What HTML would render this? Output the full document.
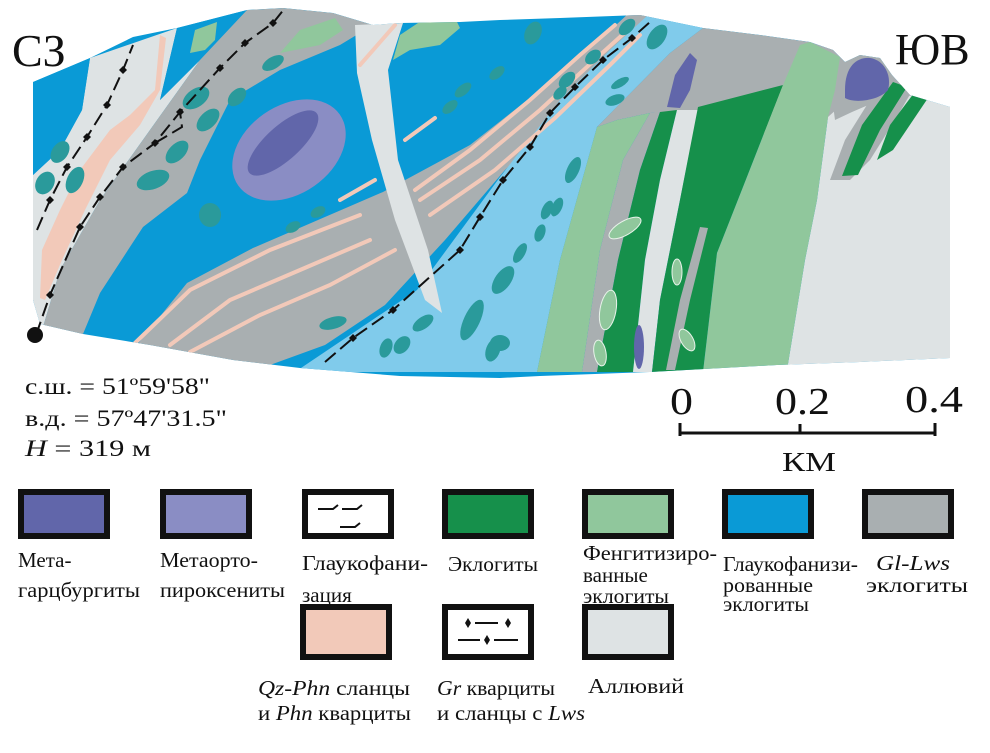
<!DOCTYPE html>
<html><head><meta charset="utf-8"><style>
html,body{margin:0;padding:0;background:#fff;}
svg{display:block;}
text{font-family:"Liberation Serif",serif;fill:#111;}
</style></head><body>
<svg width="990" height="753" viewBox="0 0 990 753" xmlns="http://www.w3.org/2000/svg">
<defs>
<clipPath id="map"><path d="M33,82 L90,58 L133,37 L177,28 L247,10 L283,8 L333,13 L373,25 L400,23 L460,22 L500,20 L560,18 L640,15 L703,28 L760,35 L810,42 L833,50 L845,62 L860,55 L880,58 L892,75 L910,95 L950,107 L950,358 L860,362 L777,365 L650,372 L540,376 L500,378 L400,376 L300,368 L233,360 L150,345 L83,334 L40,324 L33,300 Z"/></clipPath>
</defs>
<g clip-path="url(#map)">
<rect x="0" y="0" width="990" height="400" fill="#0a9ad6"/>
<path d="M90,58 L177,28 L160,100 L200,60 L150,130 L100,200 L60,270 L43,327 L33,320 L33,175 L60,150 L82,110 Z" fill="#dee3e4"/>
<path d="M33,82 L90,58 L82,110 L60,150 L33,175 Z" fill="#0a9ad6"/>
<path d="M160,100 L177,28 L247,10 L200,60 Z" fill="#0a9ad6"/>
<path d="M160,35 L166,38 L160,90 L140,125 L110,160 L85,210 L62,260 L45,300 L40,298 L42,250 L60,210 L80,170 L110,130 L130,115 L155,90 Z" fill="#f2c9b9"/>
<path d="M247,10 L283,8 L333,13 L373,25 L340,45 L280,70 L230,100 L200,160 L187,193 L143,227 L100,293 L83,334 L43,327 L60,270 L100,200 L150,130 L200,60 Z" fill="#a9afb1"/>
<path d="M133,350 L187,283 L253,248 L383,192 L470,145 L540,90 L600,40 L630,12 L662,12 L615,60 L555,120 L505,170 L445,240 L385,305 L325,345 L270,365 L233,362 Z" fill="#a9afb1"/>
<path d="M295,372 L417,290 L500,177 L560,100 L610,50 L648,15 L703,28 L670,53 L597,127 L585,170 L560,260 L537,372 Z" fill="#80cbeb"/>
<path d="M703,28 L760,35 L810,42 L833,50 L847,65 L852,98 L835,118 L800,125 L760,135 L700,110 L650,113 L617,120 L597,127 L670,53 Z" fill="#a9afb1"/>
<path d="M787,370 L805,260 L817,200 L828,117 L838,108 L852,98 L880,80 L950,100 L960,370 Z" fill="#dee3e4"/>
<path d="M825,45 L870,45 L905,70 L915,95 L880,100 L852,112 L835,120 Z" fill="#a9afb1"/>
<path d="M537,372 L560,260 L585,170 L597,127 L617,120 L650,113 L623,160 L600,250 L582,372 Z" fill="#90c79c"/>
<path d="M582,372 L600,250 L623,160 L650,113 L660,112 L640,170 L618,260 L597,372 Z" fill="#a9afb1"/>
<path d="M597,372 L618,260 L640,170 L660,112 L677,110 L660,180 L645,260 L633,372 Z" fill="#16904b"/>
<path d="M633,372 L645,260 L660,180 L677,110 L698,110 L680,200 L660,300 L652,372 Z" fill="#dee3e4"/>
<path d="M652,372 L660,300 L680,200 L698,107 L783,85 L743,187 L717,253 L703,372 Z" fill="#16904b"/>
<path d="M700,227 L708,228 L690,300 L675,370 L666,370 L680,300 Z" fill="#a9afb1"/>
<path d="M703,372 L717,253 L743,187 L783,85 L800,45 L810,42 L840,57 L835,90 L828,117 L817,200 L805,260 L787,370 Z" fill="#90c79c"/>
<path d="M667,107 L675,75 L690,53 L697,60 L690,90 L680,108 Z" fill="#6166aa"/>
<ellipse cx="639" cy="347" rx="5" ry="22" fill="#6166aa"/>
<path d="M830,180 L845,140 L870,100 L895,80 L915,86 L895,120 L870,160 L850,180 Z" fill="#a9afb1"/>
<path d="M842,176 L858,175 L880,130 L907,87 L893,82 L862,125 Z" fill="#16904b"/>
<path d="M877,160 L893,150 L928,98 L914,93 L890,125 Z" fill="#16904b"/>
<path d="M845,90 C845,65 858,57 870,58 C884,60 892,75 888,90 C880,100 855,104 845,98 Z" fill="#6166aa"/>
<path d="M355,25 L403,23 L388,70 L398,160 L428,250 L442,313 L425,300 L395,220 L372,140 L357,73 Z" fill="#dee3e4"/>
<path d="M190,53 L195,30 L217,22 L215,40 L205,50 Z" fill="#90c79c"/>
<path d="M280,53 L300,30 L335,18 L343,30 L320,45 Z" fill="#90c79c"/>
<path d="M393,60 L400,35 L430,15 L455,18 L460,28 L440,45 L410,50 Z" fill="#90c79c"/>
<ellipse cx="289" cy="150" rx="62" ry="44" transform="rotate(-35 289 150)" fill="#8a8dc4"/>
<ellipse cx="283" cy="143" rx="45" ry="17" transform="rotate(-42 283 143)" fill="#6166aa"/>
<g stroke="#f2c9b9" stroke-width="4" fill="none" stroke-linecap="round">
<path d="M135,343 L190,290 L270,250 L360,215"/>
<path d="M170,345 L230,300 L300,270 L370,240"/>
<path d="M190,352 L260,315 L330,285 L395,250"/>
<path d="M420,200 L480,160 L540,110 L600,55 L630,28"/>
<path d="M430,215 L495,170 L555,118 L610,65 L640,35"/>
<path d="M340,200 L375,180"/>
<path d="M405,140 L435,118"/>
<path d="M415,190 L470,150 L530,100 L580,55 L615,25"/>
<path d="M360,65 L395,25"/>
</g>
<g fill="#2a9a9b">
<ellipse cx="60" cy="152" rx="12" ry="8" transform="rotate(-55 60 152)"/>
<ellipse cx="45" cy="183" rx="12" ry="9" transform="rotate(-60 45 183)"/>
<ellipse cx="75" cy="180" rx="14" ry="8" transform="rotate(-65 75 180)"/>
<ellipse cx="196" cy="98" rx="15" ry="9" transform="rotate(-35 196 98)"/>
<ellipse cx="237" cy="97" rx="11" ry="7" transform="rotate(-45 237 97)"/>
<ellipse cx="208" cy="120" rx="14" ry="8" transform="rotate(-45 208 120)"/>
<ellipse cx="177" cy="152" rx="14" ry="8" transform="rotate(-45 177 152)"/>
<ellipse cx="153" cy="180" rx="17" ry="9" transform="rotate(-20 153 180)"/>
<ellipse cx="273" cy="63" rx="12" ry="6" transform="rotate(-30 273 63)"/>
<ellipse cx="210" cy="215" rx="11" ry="12"/>
<ellipse cx="293" cy="227" rx="8" ry="5" transform="rotate(-30 293 227)"/>
<ellipse cx="318" cy="212" rx="8" ry="5" transform="rotate(-30 318 212)"/>
<ellipse cx="333" cy="323" rx="14" ry="6" transform="rotate(-15 333 323)"/>
<ellipse cx="423" cy="323" rx="12" ry="6" transform="rotate(-35 423 323)"/>
<ellipse cx="402" cy="345" rx="10" ry="7" transform="rotate(-50 402 345)"/>
<ellipse cx="386" cy="348" rx="6" ry="10" transform="rotate(20 386 348)"/>
<ellipse cx="472" cy="320" rx="8" ry="22" transform="rotate(25 472 320)"/>
<ellipse cx="493" cy="350" rx="7" ry="12" transform="rotate(20 493 350)"/>
<ellipse cx="463" cy="90" rx="10" ry="5" transform="rotate(-40 463 90)"/>
<ellipse cx="450" cy="107" rx="9" ry="5" transform="rotate(-40 450 107)"/>
<ellipse cx="497" cy="73" rx="9" ry="5" transform="rotate(-40 497 73)"/>
<ellipse cx="533" cy="33" rx="8" ry="12" transform="rotate(25 533 33)"/>
<ellipse cx="627" cy="27" rx="10" ry="6" transform="rotate(-45 627 27)"/>
<ellipse cx="657" cy="37" rx="8" ry="14" transform="rotate(35 657 37)"/>
<ellipse cx="593" cy="57" rx="9" ry="6" transform="rotate(-40 593 57)"/>
<ellipse cx="567" cy="80" rx="10" ry="6" transform="rotate(-45 567 80)"/>
<ellipse cx="620" cy="83" rx="10" ry="4" transform="rotate(-30 620 83)"/>
<ellipse cx="560" cy="93" rx="8" ry="5" transform="rotate(-45 560 93)"/>
<ellipse cx="615" cy="100" rx="10" ry="5" transform="rotate(-20 615 100)"/>
<ellipse cx="573" cy="170" rx="6" ry="14" transform="rotate(25 573 170)"/>
<ellipse cx="547" cy="210" rx="5" ry="10" transform="rotate(25 547 210)"/>
<ellipse cx="557" cy="207" rx="5" ry="10" transform="rotate(25 557 207)"/>
<ellipse cx="540" cy="233" rx="5" ry="9" transform="rotate(20 540 233)"/>
<ellipse cx="520" cy="253" rx="5" ry="11" transform="rotate(30 520 253)"/>
<ellipse cx="503" cy="280" rx="8" ry="16" transform="rotate(35 503 280)"/>
<ellipse cx="500" cy="343" rx="10" ry="8"/>
</g>
<g fill="#90c79c" stroke="#e8f3ea" stroke-width="1">
<ellipse cx="625" cy="228" rx="18" ry="7" transform="rotate(-30 625 228)"/>
<ellipse cx="608" cy="310" rx="8" ry="20" transform="rotate(10 608 310)"/>
<ellipse cx="600" cy="353" rx="6" ry="13" transform="rotate(-10 600 353)"/>
<ellipse cx="677" cy="272" rx="5" ry="13"/>
<ellipse cx="687" cy="340" rx="6" ry="12" transform="rotate(-30 687 340)"/>
</g>
</g>
<g stroke="#111" stroke-width="2" fill="none" stroke-dasharray="14,6">
<polyline points="36,335 50,295 80,227 100,197 123,167 155,143 180,112 220,68 245,43 273,23 285,8"/>
<polyline points="37,230 50,200 67,167 87,137 107,105 123,70 133,45"/>
<polyline points="155,143 182,127 180,112"/>
<polyline points="325,362 353,338 393,310 460,250 480,217 503,180 530,147 550,113 575,87 603,60 632,38 650,22"/>
</g>
<g fill="#111">
<circle cx="35" cy="335" r="8"/>
<path d="M50,291 l4,4 l-4,4 l-4,-4 Z"/>
<path d="M80,223 l4,4 l-4,4 l-4,-4 Z"/>
<path d="M100,193 l4,4 l-4,4 l-4,-4 Z"/>
<path d="M123,163 l4,4 l-4,4 l-4,-4 Z"/>
<path d="M155,139 l4,4 l-4,4 l-4,-4 Z"/>
<path d="M180,108 l4,4 l-4,4 l-4,-4 Z"/>
<path d="M220,64 l4,4 l-4,4 l-4,-4 Z"/>
<path d="M245,39 l4,4 l-4,4 l-4,-4 Z"/>
<path d="M273,19 l4,4 l-4,4 l-4,-4 Z"/>
<path d="M50,196 l4,4 l-4,4 l-4,-4 Z"/>
<path d="M67,163 l4,4 l-4,4 l-4,-4 Z"/>
<path d="M87,133 l4,4 l-4,4 l-4,-4 Z"/>
<path d="M107,101 l4,4 l-4,4 l-4,-4 Z"/>
<path d="M123,66 l4,4 l-4,4 l-4,-4 Z"/>
<path d="M353,334 l4,4 l-4,4 l-4,-4 Z"/>
<path d="M393,306 l4,4 l-4,4 l-4,-4 Z"/>
<path d="M460,246 l4,4 l-4,4 l-4,-4 Z"/>
<path d="M480,213 l4,4 l-4,4 l-4,-4 Z"/>
<path d="M503,176 l4,4 l-4,4 l-4,-4 Z"/>
<path d="M530,143 l4,4 l-4,4 l-4,-4 Z"/>
<path d="M550,109 l4,4 l-4,4 l-4,-4 Z"/>
<path d="M575,83 l4,4 l-4,4 l-4,-4 Z"/>
<path d="M603,56 l4,4 l-4,4 l-4,-4 Z"/>
<path d="M632,34 l4,4 l-4,4 l-4,-4 Z"/>
</g>
<text x="12" y="66" font-size="46">СЗ</text>
<text x="895" y="64" font-size="44">ЮВ</text>
<text x="25" y="394" font-size="23" textLength="185" lengthAdjust="spacingAndGlyphs">с.ш. = 51º59'58"</text>
<text x="25" y="426" font-size="23" textLength="202" lengthAdjust="spacingAndGlyphs">в.д. = 57º47'31.5"</text>
<text x="25" y="456" font-size="23" textLength="126" lengthAdjust="spacingAndGlyphs"><tspan font-style="italic">H</tspan> = 319 м</text>
<text x="670" y="414" font-size="38" textLength="23" lengthAdjust="spacingAndGlyphs">0</text>
<text x="775" y="414" font-size="38" textLength="55" lengthAdjust="spacingAndGlyphs">0.2</text>
<text x="905" y="412" font-size="38" textLength="58" lengthAdjust="spacingAndGlyphs">0.4</text>
<path d="M680,423 V436 M680,433 H935 M800,424 V433 M935,423 V436" stroke="#111" stroke-width="3" fill="none"/>
<text x="782" y="471" font-size="27" textLength="54" lengthAdjust="spacingAndGlyphs">КМ</text>
<g stroke="#111" stroke-width="6">
<rect x="21" y="492" width="86" height="44" fill="#6166aa"/>
<rect x="163" y="492" width="86" height="44" fill="#8a8dc4"/>
<rect x="305" y="492" width="86" height="44" fill="#fff"/>
<rect x="445" y="492" width="86" height="44" fill="#16904b"/>
<rect x="585" y="492" width="86" height="44" fill="#90c79c"/>
<rect x="725" y="492" width="86" height="44" fill="#0a9ad6"/>
<rect x="865" y="492" width="86" height="44" fill="#a9afb1"/>
<rect x="303" y="607" width="86" height="50" fill="#f2c9b9"/>
<rect x="445" y="607" width="86" height="50" fill="#fff"/>
<rect x="585" y="607" width="86" height="50" fill="#dee3e4"/>
</g>
<g stroke="#111" stroke-width="2" fill="none">
<path d="M318,509 H333 L338,505 M342,509 H357 L362,505 M340,527 H355 L360,523"/>
<path d="M475,623 H498 M458,640 H480 M494,640 H518"/>
</g>
<g fill="#111">
<path d="M468,618 l3,5 l-3,5 l-3,-5 Z"/>
<path d="M508,618 l3,5 l-3,5 l-3,-5 Z"/>
<path d="M487,635 l3,5 l-3,5 l-3,-5 Z"/>
</g>
<g font-size="21">
<text x="18" y="567">Мета-</text>
<text x="18" y="597" textLength="122" lengthAdjust="spacingAndGlyphs">гарцбургиты</text>
<text x="160" y="567" textLength="98" lengthAdjust="spacingAndGlyphs">Метаорто-</text>
<text x="160" y="597" textLength="125" lengthAdjust="spacingAndGlyphs">пироксениты</text>
<text x="302" y="570" textLength="126" lengthAdjust="spacingAndGlyphs">Глаукофани-</text>
<text x="302" y="602">зация</text>
<text x="448" y="571" textLength="90" lengthAdjust="spacingAndGlyphs">Эклогиты</text>
<text x="583" y="560" textLength="134" lengthAdjust="spacingAndGlyphs">Фенгитизиро-</text>
<text x="583" y="582">ванные</text>
<text x="583" y="603" textLength="86" lengthAdjust="spacingAndGlyphs">эклогиты</text>
<text x="723" y="571" textLength="135" lengthAdjust="spacingAndGlyphs">Глаукофанизи-</text>
<text x="723" y="592" textLength="90" lengthAdjust="spacingAndGlyphs">рованные</text>
<text x="723" y="611" textLength="86" lengthAdjust="spacingAndGlyphs">эклогиты</text>
<text x="876" y="570" font-style="italic" textLength="74" lengthAdjust="spacingAndGlyphs">Gl-Lws</text>
<text x="866" y="592" textLength="102" lengthAdjust="spacingAndGlyphs">эклогиты</text>
<text x="258" y="695" textLength="152" lengthAdjust="spacingAndGlyphs"><tspan font-style="italic">Qz-Phn</tspan> сланцы</text>
<text x="258" y="720" textLength="153" lengthAdjust="spacingAndGlyphs">и <tspan font-style="italic">Phn</tspan> кварциты</text>
<text x="437" y="695" textLength="118" lengthAdjust="spacingAndGlyphs"><tspan font-style="italic">Gr</tspan> кварциты</text>
<text x="437" y="720" textLength="148" lengthAdjust="spacingAndGlyphs">и сланцы с <tspan font-style="italic">Lws</tspan></text>
<text x="588" y="693" textLength="96" lengthAdjust="spacingAndGlyphs">Аллювий</text>
</g>
</svg>
</body></html>
